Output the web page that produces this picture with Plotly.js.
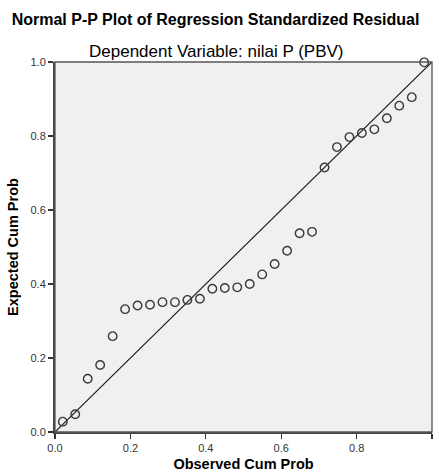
<!DOCTYPE html>
<html>
<head>
<meta charset="utf-8">
<script src="https://cdn.plot.ly/plotly-3.0.1.min.js"></script>
<style>
html,body{margin:0;padding:0;background:#fff;}
#chart{width:439px;height:472px;}
</style>
</head>
<body>
<div id="chart"></div>
<script>
// Observed cumulative probability (x)
var observedCumProb = [0.0207, 0.0537, 0.0868, 0.1198, 0.1529, 0.1860, 0.2190, 0.2521, 0.2851, 0.3182,
                       0.3512, 0.3843, 0.4174, 0.4504, 0.4835, 0.5165, 0.5496, 0.5826, 0.6157, 0.6488,
                       0.6818, 0.7149, 0.7479, 0.7810, 0.8140, 0.8471, 0.8802, 0.9132, 0.9463, 0.9793];
// Expected cumulative probability (y)
var expectedCumProb = [0.028, 0.048, 0.144, 0.181, 0.259, 0.332, 0.342, 0.344, 0.351, 0.351,
                       0.357, 0.360, 0.387, 0.389, 0.391, 0.400, 0.426, 0.454, 0.490, 0.537,
                       0.541, 0.715, 0.770, 0.797, 0.808, 0.818, 0.848, 0.882, 0.905, 0.999];
// Reference diagonal
var refLineX = [0, 1];
var refLineY = [0, 1];
var tickVals = [0, 0.2, 0.4, 0.6, 0.8, 1.0];
var tickText = ["0.0", "0.2", "0.4", "0.6", "0.8", "1.0"];

var FONT = '"Liberation Sans", Arial, sans-serif';

var traces = [
  {
    x: refLineX, y: refLineY, type: 'scatter', mode: 'lines',
    line: {color: '#1a1a1a', width: 1.2}, hoverinfo: 'skip', cliponaxis: false
  },
  {
    x: observedCumProb, y: expectedCumProb, type: 'scatter', mode: 'markers',
    marker: {symbol: 'circle-open', size: 8.5, color: '#3a3a3a', line: {width: 1.4, color: '#3a3a3a'}},
    cliponaxis: false
  }
];

var axisCommon = {
  range: [0, 1], tickvals: tickVals, ticktext: tickText,
  ticks: 'outside', ticklen: 5, tickwidth: 1.2, tickcolor: '#333',
  showgrid: false, zeroline: false,
  showline: true, linecolor: '#444', linewidth: 2,
  tickfont: {family: FONT, size: 11, color: '#333'},
  fixedrange: true
};

var layout = {
  width: 439, height: 472,
  margin: {l: 55, r: 7, t: 62, b: 40},
  paper_bgcolor: '#ffffff',
  plot_bgcolor: '#f0f0f0',
  showlegend: false,
  title: {
    text: '<b>Normal P-P Plot of Regression Standardized Residual</b>',
    font: {family: FONT, size: 16, color: '#000'},
    x: 0.491, xanchor: 'center', xref: 'container',
    y: 1 - 19/472, yanchor: 'middle', yref: 'container'
  },
  xaxis: Object.assign({}, axisCommon, {
    title: {text: '<b>Observed Cum Prob</b>', font: {family: FONT, size: 14.5, color: '#000'}, standoff: 18}
  }),
  yaxis: Object.assign({}, axisCommon, {
    title: {text: '<b>Expected Cum Prob</b>', font: {family: FONT, size: 14.5, color: '#000'}, standoff: 8}
  }),
  shapes: [
    {type: 'rect', xref: 'paper', yref: 'paper', x0: 0, y0: 0, x1: 1, y1: 1,
     line: {color: '#555', width: 1.3}, fillcolor: 'rgba(0,0,0,0)', layer: 'above'}
  ],
  annotations: [
    {text: 'Dependent Variable: nilai P (PBV)', xref: 'paper', yref: 'paper',
     x: (216 - 55) / 377, y: 1 + (62 - 51) / 370, xanchor: 'center', yanchor: 'middle',
     showarrow: false, font: {family: FONT, size: 17, color: '#000'}}
  ]
};

Plotly.newPlot('chart', traces, layout, {displayModeBar: false, staticPlot: true});
</script>
</body>
</html>
